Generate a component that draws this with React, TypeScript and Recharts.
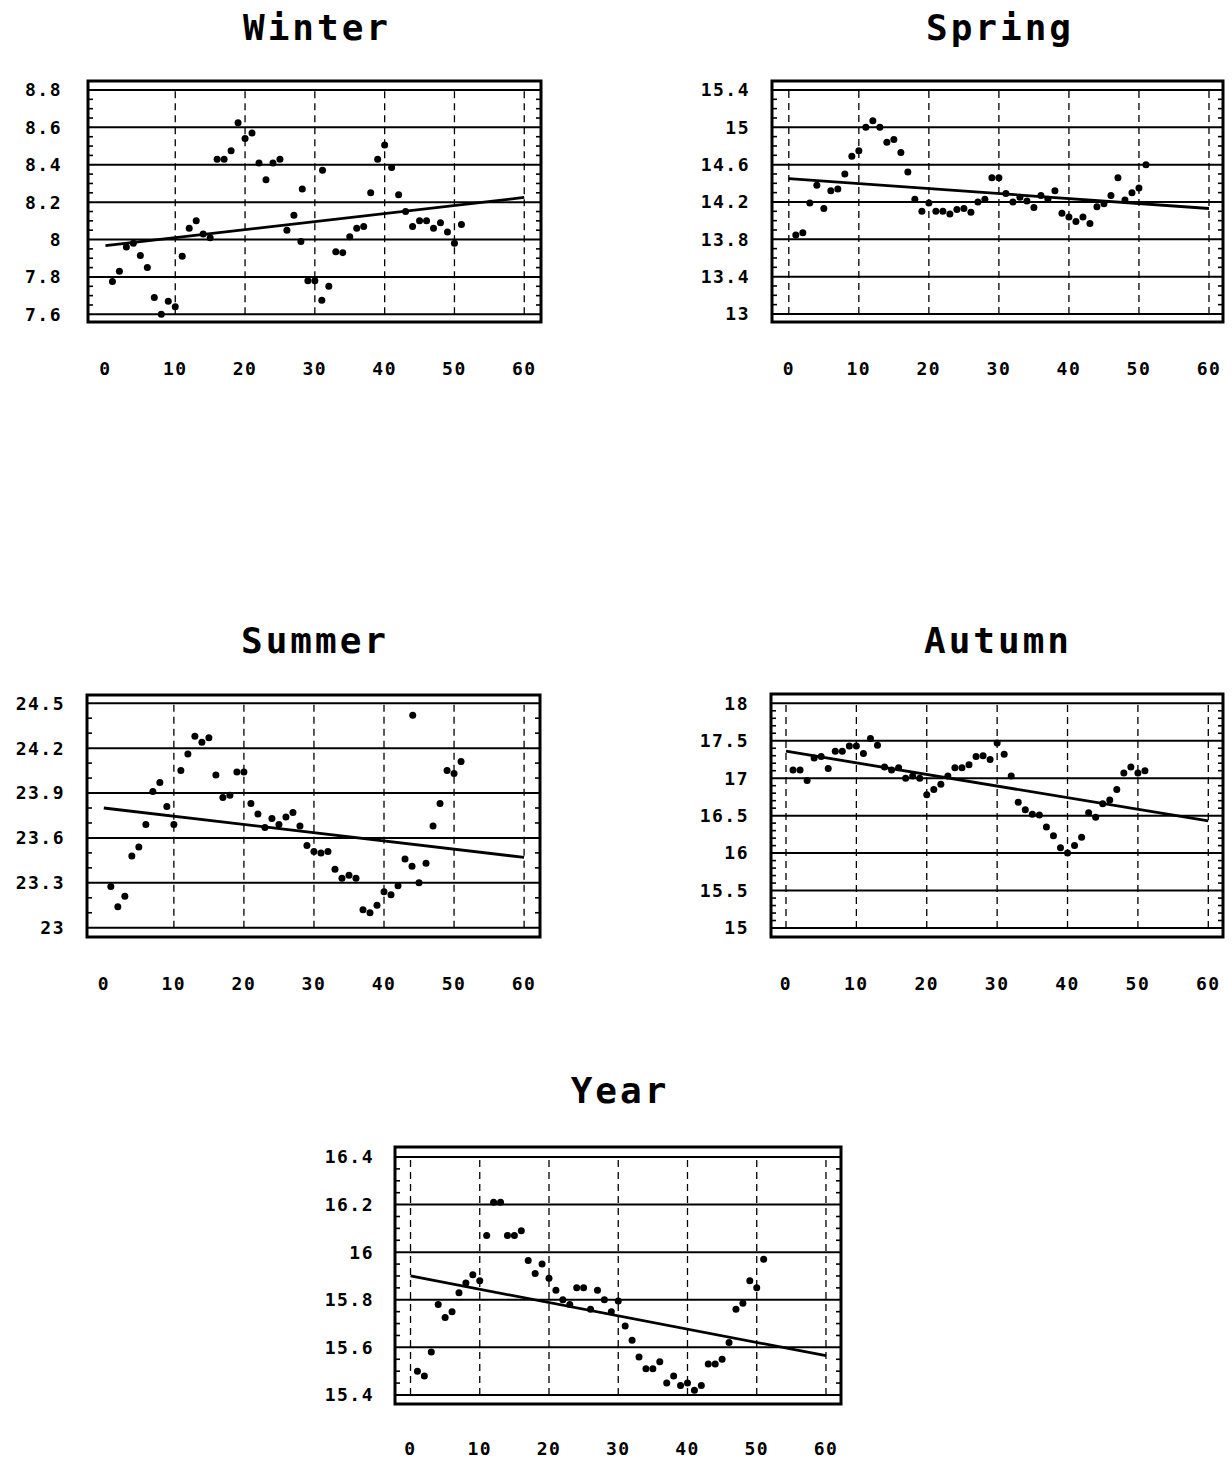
import React from 'react';
import { ScatterChart, Scatter, XAxis, YAxis, CartesianGrid, ReferenceLine, ReferenceArea } from 'recharts';

// ---------- data ----------
const indexX = [1, 2, 3, 4, 5, 6, 7, 8, 9, 10, 11, 12, 13, 14, 15, 16, 17, 18, 19, 20, 21, 22, 23, 24, 25, 26, 27, 28, 29, 30, 31, 32, 33, 34, 35, 36, 37, 38, 39, 40, 41, 42, 43, 44, 45, 46, 47, 48, 49, 50, 51];
const xTicks = [0, 10, 20, 30, 40, 50, 60];
const trendX = [0, 60];

const winterY = [7.775, 7.83, 7.96, 7.98, 7.915, 7.85, 7.69, 7.6, 7.67, 7.64, 7.91, 8.06, 8.1, 8.03, 8.01, 8.43, 8.43, 8.475, 8.625, 8.54, 8.57, 8.41, 8.32, 8.41, 8.43, 8.05, 8.13, 7.99, 7.78, 7.78, 7.675, 7.75, 7.935, 7.93, 8.015, 8.06, 8.07, 8.25, 8.43, 8.506, 8.385, 8.24, 8.15, 8.07, 8.1, 8.1, 8.06, 8.09, 8.04, 7.98, 8.08];
const winterExtraX = [28.2, 31.1];
const winterExtraY = [8.27, 8.37];
const winterTicks = [7.6, 7.8, 8, 8.2, 8.4, 8.6, 8.8];
const winterTrend = [7.967, 8.225];

const springY = [13.846, 13.87, 14.19, 14.38, 14.13, 14.32, 14.34, 14.5, 14.69, 14.75, 15.0, 15.07, 15.0, 14.84, 14.87, 14.73, 14.52, 14.23, 14.1, 14.19, 14.1, 14.1, 14.07, 14.12, 14.13, 14.09, 14.2, 14.23, 14.46, 14.46, 14.29, 14.2, 14.25, 14.21, 14.14, 14.27, 14.23, 14.32, 14.08, 14.04, 13.99, 14.04, 13.97, 14.15, 14.18, 14.27, 14.46, 14.22, 14.3, 14.35, 14.6];
const springTicks = [13, 13.4, 13.8, 14.2, 14.6, 15, 15.4];
const springTrend = [14.45, 14.13];

const summerY = [23.275, 23.14, 23.21, 23.48, 23.54, 23.69, 23.91, 23.97, 23.81, 23.69, 24.05, 24.16, 24.28, 24.24, 24.27, 24.02, 23.87, 23.885, 24.04, 24.04, 23.83, 23.76, 23.67, 23.73, 23.69, 23.74, 23.77, 23.68, 23.55, 23.51, 23.5, 23.51, 23.39, 23.33, 23.35, 23.33, 23.12, 23.1, 23.15, 23.24, 23.22, 23.28, 23.46, 23.41, 23.3, 23.43, 23.68, 23.83, 24.05, 24.03, 24.11];
const summerExtraX = [44.1];
const summerExtraY = [24.42];
const summerTicks = [23, 23.3, 23.6, 23.9, 24.2, 24.5];
const summerTrend = [23.8, 23.47];

const autumnY = [17.11, 17.11, 16.97, 17.27, 17.29, 17.13, 17.36, 17.36, 17.43, 17.43, 17.33, 17.53, 17.44, 17.15, 17.11, 17.14, 17.0, 17.03, 17.0, 16.78, 16.85, 16.92, 17.03, 17.14, 17.14, 17.18, 17.29, 17.3, 17.25, 17.47, 17.32, 17.03, 16.68, 16.58, 16.52, 16.51, 16.35, 16.23, 16.07, 16.0, 16.1, 16.21, 16.54, 16.48, 16.66, 16.71, 16.85, 17.07, 17.15, 17.07, 17.1];
const autumnTicks = [15, 15.5, 16, 16.5, 17, 17.5, 18];
const autumnTrend = [17.36, 16.43];

const yearY = [15.5, 15.48, 15.58, 15.78, 15.725, 15.75, 15.83, 15.87, 15.905, 15.88, 16.07, 16.21, 16.21, 16.07, 16.07, 16.09, 15.965, 15.91, 15.95, 15.89, 15.84, 15.8, 15.78, 15.85, 15.85, 15.76, 15.84, 15.8, 15.75, 15.795, 15.69, 15.63, 15.56, 15.51, 15.51, 15.54, 15.45, 15.48, 15.44, 15.45, 15.42, 15.44, 15.53, 15.53, 15.55, 15.62, 15.76, 15.785, 15.88, 15.85, 15.97];
const yearTicks = [15.4, 15.6, 15.8, 16, 16.2, 16.4];
const yearTrend = [15.9, 15.565];

// ---------- helpers ----------
type Pt = { x: number; y: number };
const zip = (xs: number[], ys: number[]): Pt[] => ys.map((y, i) => ({ x: xs[i], y }));

type Cfg = {
  title: string;
  titleX: number;
  titleY: number;
  left: number;
  top: number;
  width: number;
  height: number;
  xDomain: [number, number];
  yDomain: [number, number];
  yTicks: number[];
  minorStep: number;
  vGrid: number[];
  labelGap: number;
  xLabelGap: number;
  points: Pt[];
  trend: Pt[];
};

const FONT = '"DejaVu Sans Mono", "Liberation Mono", monospace';

const panels: Cfg[] = [
  {
    title: 'Winter', titleX: 317, titleY: 40,
    left: 88, top: 81, width: 453, height: 241,
    xDomain: [-2.5, 62.4], yDomain: [7.559, 8.848],
    yTicks: winterTicks, minorStep: 0.05, vGrid: [10, 20, 30, 40, 50, 60],
    labelGap: 26, xLabelGap: 40,
    points: [...zip(indexX, winterY), ...zip(winterExtraX, winterExtraY)],
    trend: zip(trendX, winterTrend),
  },
  {
    title: 'Spring', titleX: 1000, titleY: 40,
    left: 772, top: 81, width: 451, height: 241,
    xDomain: [-2.4, 62.0], yDomain: [12.914, 15.496],
    yTicks: springTicks, minorStep: 0.1, vGrid: [0, 10, 20, 30, 40, 50, 60],
    labelGap: 22, xLabelGap: 40,
    points: zip(indexX, springY),
    trend: zip(trendX, springTrend),
  },
  {
    title: 'Summer', titleX: 315, titleY: 653,
    left: 87, top: 695, width: 453, height: 242,
    xDomain: [-2.4, 62.27], yDomain: [22.938, 24.555],
    yTicks: summerTicks, minorStep: 0.1, vGrid: [10, 20, 30, 40, 50, 60],
    labelGap: 22, xLabelGap: 40,
    points: [...zip(indexX, summerY), ...zip(summerExtraX, summerExtraY)],
    trend: zip(trendX, summerTrend),
  },
  {
    title: 'Autumn', titleX: 998, titleY: 653,
    left: 771, top: 694, width: 452, height: 243,
    xDomain: [-2.13, 62.09], yDomain: [14.88, 18.124],
    yTicks: autumnTicks, minorStep: 0.1, vGrid: [0, 10, 20, 30, 40, 50, 60],
    labelGap: 22, xLabelGap: 40,
    points: zip(indexX, autumnY),
    trend: zip(trendX, autumnTrend),
  },
  {
    title: 'Year', titleX: 620, titleY: 1103,
    left: 395, top: 1147, width: 446, height: 257,
    xDomain: [-2.24, 62.17], yDomain: [15.362, 16.442],
    yTicks: yearTicks, minorStep: 0.05, vGrid: [0, 10, 20, 30, 40, 50, 60],
    labelGap: 21, xLabelGap: 38,
    points: zip(indexX, yearY),
    trend: zip(trendX, yearTrend),
  },
];

const minorValues = (ticks: number[], step: number): number[] => {
  const lo = Math.min(...ticks);
  const hi = Math.max(...ticks);
  const out: number[] = [];
  const n = Math.round((hi - lo) / step);
  for (let i = 0; i <= n; i++) {
    const v = Math.round((lo + i * step) * 1e6) / 1e6;
    if (!ticks.some((t) => Math.abs(t - v) < 1e-6)) out.push(v);
  }
  return out;
};

const Dot = (p: any) => <circle cx={p.cx} cy={p.cy} r={3.5} fill="#000" />;
const NoDot = () => <g />;

const tickStyle = { fontSize: 18, fontFamily: FONT, fontWeight: 700, fill: '#000', letterSpacing: 1.5 };

const Panel = ({ c }: { c: Cfg }) => {
  const YW = 110;
  const W = c.width + YW + 10;
  const H = c.height + 10 + 70;
  const pxPerX = c.width / (c.xDomain[1] - c.xDomain[0]);
  const tickLen = 5 / pxPerX;
  const minors = minorValues(c.yTicks, c.minorStep);
  const yLo = Math.min(...c.yTicks);
  const yHi = Math.max(...c.yTicks);
  return (
    <div style={{ position: 'absolute', left: c.left - YW, top: c.top - 10, width: W, height: H }}>
      <ScatterChart width={W} height={H} margin={{ top: 10, right: 10, left: 0, bottom: 0 }}>
        <CartesianGrid vertical={false} stroke="#000" strokeWidth={2} />
        <XAxis
          type="number"
          dataKey="x"
          domain={c.xDomain}
          ticks={xTicks}
          interval={0}
          axisLine={false}
          tickLine={false}
          tickSize={0}
          tickMargin={c.xLabelGap}
          height={70}
          tick={tickStyle}
        />
        <YAxis
          type="number"
          dataKey="y"
          domain={c.yDomain}
          ticks={c.yTicks}
          interval={0}
          axisLine={false}
          tickLine={false}
          tickSize={0}
          tickMargin={c.labelGap}
          width={YW}
          tick={tickStyle}
        />
        {c.vGrid.map((v) => (
          <ReferenceLine
            key={'v' + v}
            segment={[{ x: v, y: yLo }, { x: v, y: yHi }]}
            stroke="#000"
            strokeWidth={1.3}
            strokeDasharray="7 5"
            ifOverflow="visible"
          />
        ))}
        {minors.map((v) => (
          <ReferenceLine
            key={'ml' + v}
            segment={[{ x: c.xDomain[0], y: v }, { x: c.xDomain[0] + tickLen, y: v }]}
            stroke="#000"
            strokeWidth={1.6}
            ifOverflow="visible"
          />
        ))}
        {minors.map((v) => (
          <ReferenceLine
            key={'mr' + v}
            segment={[{ x: c.xDomain[1] - tickLen, y: v }, { x: c.xDomain[1], y: v }]}
            stroke="#000"
            strokeWidth={1.6}
            ifOverflow="visible"
          />
        ))}
        <ReferenceArea
          x1={c.xDomain[0]}
          x2={c.xDomain[1]}
          y1={c.yDomain[0]}
          y2={c.yDomain[1]}
          fill="none"
          fillOpacity={0}
          stroke="#000"
          strokeWidth={3}
          ifOverflow="visible"
        />
        <Scatter data={c.trend} line={{ stroke: '#000', strokeWidth: 2.8 }} shape={NoDot} isAnimationActive={false} />
        <Scatter data={c.points} fill="#000" shape={Dot} isAnimationActive={false} />
      </ScatterChart>
    </div>
  );
};

export default function App() {
  return (
    <div style={{ position: 'absolute', left: 0, top: 0, width: 1232, height: 1461, background: '#fff' }}>
      {panels.map((c) => (
        <Panel key={c.title} c={c} />
      ))}
      <svg width={1232} height={1461} style={{ position: 'absolute', left: 0, top: 0, pointerEvents: 'none' }}>
        {panels.map((c) => (
          <text
            key={'t' + c.title}
            x={c.titleX}
            y={c.titleY}
            textAnchor="middle"
            fontFamily={FONT}
            fontSize={36}
            fontWeight={700}
            letterSpacing={3}
            fill="#000"
          >
            {c.title}
          </text>
        ))}
      </svg>
    </div>
  );
}
